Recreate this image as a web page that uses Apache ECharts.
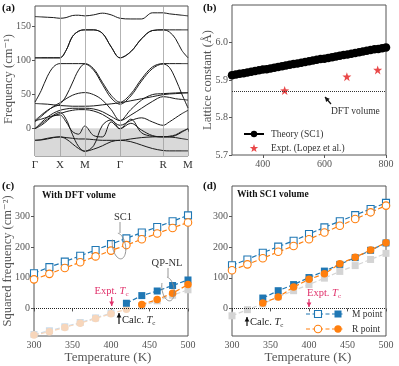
<!DOCTYPE html>
<html><head><meta charset="utf-8">
<script src="https://cdn.jsdelivr.net/npm/echarts@6/dist/echarts.min.js"></script>
<style>html,body{margin:0;padding:0;background:#fff}#c{width:399px;height:366px}</style>
</head><body><div id="c"></div>
<script>
// ---------- Panel (a): phonon dispersion ----------
const kPoints = [0,0.125,0.25,0.375,0.5,0.625,0.75,0.875,1.0,1.177,1.354,1.53,1.707,1.924,2.14,2.357,2.573,2.698,2.823,2.948,3.073];
const kNodes = [0,0.5,1.0,1.707,2.573,3.073];
const kLabels = ['Γ','X','M','Γ','R','M'];
const bandT = [164.5,164,163.5,163,162,163,166,166.5,165.5,167,169.5,167,162,161,161,170,170,168.5,167.5,166.5,165.5];
const bandA = [104,104,104,104,104,115,135,143,145,145,140,120,104,113,132,144,145,145,145,145,145];
const bandB = [104,104,104,104,104,115,135,143,145,145,140,120,104,113,132,144,145,142,132,115,104];
const bandC = [39,56,77,91,95.5,95.5,95.5,95.5,95.5,88,68,49,39,51,73,90.5,95.5,95.5,95.5,95.5,95.5];
const bandD = [12,20,27,32,36,48,67,86,95,86,65,45,36,48,70,88,95,90,73,51,30.5];
const bandE = [10,18,26,33,38,44,49,52,53,50,42,28,12,28,42,50,51.5,52,52.5,53,53];
const bandF = [37,36.5,36,35,34,33.5,33,33,33,33.5,35,36.5,38,41,44,47,50,51,51.5,52,52.5];
const bandG = [0,9,17,23,27,29,30,30,30,29,25,18,12,20,30,40,47,46,44,43,42];
const bandH = [0,7,14,19,22,25,27,28,28,26,21,13,5,12,16,10,5,10,16,22,27];
const bandI = [0,5,12,20,24,14,-8,-26,-33,-25,5,13,0,14,-6,-11,-12,-12,-10,-5,0];
const bandJ = [12,14,17,19,20,10,-4,-8,4,-10,-12,10,0,8,-2,-10,-12,-11,-9,-4,0];
const bandK = [-17,-16.5,-15,-13,-12,-15,-22,-29,-33,-30,-25,-19,-17,-19,-24,-29,-32,-32.5,-32.5,-32.5,-32.5];
const bandL = [-17,-16,-14,-12.5,-12,-13,-14,-15,-15,-16,-17,-17,-17,-15,-13,-12,-11.5,-12,-13,-14.5,-16];
const bands = [bandT,bandA,bandB,bandC,bandD,bandE,bandF,bandG,bandH,bandI,bandJ,bandK,bandL];
const aTicks = [0,50,100,150];

// ---------- Panel (b): lattice constant ----------
const bTemps = [300,312.5,325,337.5,350,362.5,375,387.5,400,412.5,425,437.5,450,462.5,475,487.5,500,512.5,525,537.5,550,562.5,575,587.5,600,612.5,625,637.5,650,662.5,675,687.5,700,712.5,725,737.5,750,762.5,775,787.5,800];
const bTheory = [5.913,5.915,5.917,5.918,5.920,5.922,5.924,5.926,5.928,5.929,5.931,5.933,5.935,5.937,5.939,5.941,5.943,5.944,5.946,5.948,5.950,5.952,5.954,5.956,5.957,5.959,5.961,5.963,5.965,5.967,5.968,5.970,5.972,5.974,5.976,5.978,5.980,5.982,5.983,5.985,5.987];
const bExptT = [471,673,773];
const bExpt = [5.872,5.909,5.927];
const bDFT = 5.866;
const bXTicks = [400,600,800];
const bYTicks = [5.7,5.8,5.9,6.0];

// ---------- Panel (c): DFT volume ----------
const temps = [300,320,340,360,380,400,420,440,460,480,500];
const cSC1M = [115,135,153,172,191,210,229,248,266,285,304];
const cSC1R = [95,113,132,151,170,189,207,226,245,263,281];
const cQPT_M = [420,440,460,480,500];
const cQPM = [17,42,57,75,93];
const cQPT_R = [440,460,480,500];
const cQPR = [13,29,50,78];
const cFadeT_M = [300,320,340,360,380,400];
const cFadeM = [-85,-73,-60,-46,-31,-15];
const cFadeT_R = [300,320,340,360,380,400,420];
const cFadeR = [-87,-76,-62,-48,-33,-17,-3];
const cFadeT_G = [440,460,480,500];
const cFadeG = [8,25,43,61];

// ---------- Panel (d): SC1 volume ----------
const dSC1M = [141,160,182,202,221,243,265,285,305,325,345];
const dSC1R = [125,144,164,185,204,226,248,270,292,314,336];
const dQPT = [340,360,380,400,420,440,460,480,500];
const dQPM = [34,58,78,101,122,144,166,190,214];
const dQPR = [18,37,70,95,113,146,167,191,215];
const dFadeG = [-24,-4,15,38,58,78,99,121,140,160,180];
const cdYTicks = [0,100,200,300];

// ---------- styling ----------
const FONT = '"Liberation Serif","DejaVu Serif",serif';
const BLUE = '#1f77b4', ORANGE = '#ff7f0e', PINK = '#e0306a';
const AX = '#555', TXT = '#555';
const STAR = 'path://M0,-10L2.35,-3.24L9.51,-3.09L3.8,1.24L5.88,8.09L0,4L-5.88,8.09L-3.8,1.24L-9.51,-3.09L-2.35,-3.24Z';

const grids = [
  {left:35, top:6, width:153, height:150},
  {left:232, top:5, width:154, height:150},
  {left:34, top:186, width:154, height:150},
  {left:232, top:186, width:154, height:150}
].map(g => Object.assign(g, {show:true, borderColor:AX, borderWidth:1, backgroundColor:'transparent'}));

function axisBase(extra){
  return Object.assign({
    type:'value',
    axisLine:{show:false},
    axisTick:{show:true, length:3, lineStyle:{color:AX}},
    axisLabel:{color:TXT, fontFamily:FONT, fontSize:10, margin:4},
    splitLine:{show:false}
  }, extra);
}

const xAxes = [
  axisBase({gridIndex:0, min:0, max:3.073,
    axisTick:{show:true, length:3, lineStyle:{color:AX}, customValues:kNodes},
    axisLabel:{color:'#333', fontFamily:FONT, fontSize:11, margin:4, customValues:kNodes,
      formatter:v=>{let bi=0,bd=1e9;kNodes.forEach((k,i)=>{if(Math.abs(k-v)<bd){bd=Math.abs(k-v);bi=i;}});return kLabels[bi];}}}),
  axisBase({gridIndex:1, min:300, max:800,
    axisTick:{show:true, length:3, lineStyle:{color:AX}, customValues:bXTicks},
    axisLabel:{color:TXT, fontFamily:FONT, fontSize:10, margin:4, customValues:bXTicks}}),
  axisBase({gridIndex:2, min:300, max:500, interval:50}),
  axisBase({gridIndex:3, min:300, max:500, interval:50})
];
const yAxes = [
  axisBase({gridIndex:0, min:-40, max:180,
    axisTick:{show:true, length:3, lineStyle:{color:AX}, customValues:aTicks},
    axisLabel:{color:TXT, fontFamily:FONT, fontSize:10, margin:4, customValues:aTicks}}),
  axisBase({gridIndex:1, min:5.7, max:6.1,
    axisTick:{show:true, length:3, lineStyle:{color:AX}, customValues:bYTicks},
    axisLabel:{color:TXT, fontFamily:FONT, fontSize:10, margin:4, customValues:bYTicks, formatter:v=>v.toFixed(1)}}),
  axisBase({gridIndex:2, min:-90, max:400,
    axisTick:{show:true, length:3, lineStyle:{color:AX}, customValues:cdYTicks},
    axisLabel:{color:TXT, fontFamily:FONT, fontSize:10, margin:4, customValues:cdYTicks}}),
  axisBase({gridIndex:3, min:-90, max:400,
    axisTick:{show:true, length:3, lineStyle:{color:AX}, customValues:cdYTicks},
    axisLabel:{color:TXT, fontFamily:FONT, fontSize:10, margin:4, customValues:cdYTicks}})
];

const series = [];
// (a) negative region shading + symmetry lines
series.push({type:'line', xAxisIndex:0, yAxisIndex:0, silent:true, z:1,
  data:[[kNodes[0],0],[kNodes[kNodes.length-1],0]], showSymbol:false,
  lineStyle:{width:0.6, color:'#cfcfcf'}, areaStyle:{color:'#d9d9d9', opacity:1, origin:'start'},
  markLine:{silent:true, symbol:'none', label:{show:false}, lineStyle:{color:'#a0a0a0', width:0.8, type:'solid'},
    data:kNodes.slice(1,-1).map(v=>({xAxis:v}))}
});
bands.forEach(b=>{
  series.push({type:'line', xAxisIndex:0, yAxisIndex:0, silent:true, z:3, smooth:0.35,
    showSymbol:false, data:kPoints.map((k,i)=>[k,b[i]]), lineStyle:{color:'#1a1a1a', width:1}});
});
// (b)
series.push({name:'Theory (SC1)', type:'line', xAxisIndex:1, yAxisIndex:1, z:3,
  data:bTemps.map((t,i)=>[t,bTheory[i]]), symbol:'circle', symbolSize:8.5, showAllSymbol:true,
  itemStyle:{color:'#000'}, lineStyle:{color:'#000', width:1, type:'dashed'},
  markLine:{silent:true, symbol:'none', label:{show:false}, lineStyle:{color:'#333', width:1, type:'dotted'}, data:[{yAxis:bDFT}]}
});
series.push({name:'Expt. (Lopez et al.)', type:'scatter', xAxisIndex:1, yAxisIndex:1, z:4,
  data:bExptT.map((t,i)=>[t,bExpt[i]]), symbol:STAR, symbolSize:9, itemStyle:{color:'#e41a1c'}});

function lineS(xi, ts, vs, color, symbol, filled, opts){
  return Object.assign({type:'line', xAxisIndex:xi, yAxisIndex:xi, silent:true,
    data:ts.map((t,i)=>[t,vs[i]]), symbol:symbol, symbolSize:symbol==='rect'?7:7.5, showAllSymbol:true,
    itemStyle:filled?{color:color}:{color:'#fff', borderColor:color, borderWidth:1.1},
    lineStyle:{color:color, width:1.2, type:'dashed'}, z:3}, opts||{});
}
const FB = '#c8dbeb', FO = '#f7d6bb', FG = '#d4d4d4';
// (c)
series.push(lineS(2, cFadeT_M, cFadeM, FB, 'rect', true, {z:2}));
series.push(lineS(2, cFadeT_R, cFadeR, FO, 'circle', true, {z:2}));
series.push(lineS(2, cFadeT_G, cFadeG, FG, 'rect', true, {z:2}));
series.push(lineS(2, temps, cSC1M, BLUE, 'rect', false));
series.push(lineS(2, temps, cSC1R, ORANGE, 'circle', false));
series.push(lineS(2, cQPT_M, cQPM, BLUE, 'rect', true, {z:4}));
series.push(lineS(2, cQPT_R, cQPR, ORANGE, 'circle', true, {z:4,
  markLine:{silent:true, symbol:'none', label:{show:false}, lineStyle:{color:'#222', width:1, type:'dotted'}, data:[{yAxis:0}]}}));
// (d)
series.push(lineS(3, temps, dFadeG, FG, 'rect', true, {z:2}));
series.push(lineS(3, temps, dSC1M, BLUE, 'rect', false));
series.push(lineS(3, temps, dSC1R, ORANGE, 'circle', false));
series.push(lineS(3, dQPT, dQPM, BLUE, 'rect', true, {z:4}));
series.push(lineS(3, dQPT, dQPR, ORANGE, 'circle', true, {z:4,
  markLine:{silent:true, symbol:'none', label:{show:false}, lineStyle:{color:'#222', width:1, type:'dotted'}, data:[{yAxis:0}]}}));

// ---------- annotations ----------
const G = [];
function txt(x,y,text,o){
  o=o||{};
  G.push({type:'text', x:x, y:y, rotation:o.rot||0, z:50, silent:true,
    style:Object.assign({text:text, fill:o.color||TXT, fontFamily:FONT, fontSize:o.size||10,
      fontWeight:o.bold?'bold':'normal', align:o.align||'left', verticalAlign:'middle'}, o.style||{})});
}
function arrow(x1,y1,x2,y2,color){
  G.push({type:'line', z:50, silent:true, shape:{x1:x1,y1:y1,x2:x2,y2:y2}, style:{stroke:color, lineWidth:1.2}});
  const a=Math.atan2(y2-y1,x2-x1), L=4.5, W=2.4;
  const bx=x2-L*Math.cos(a), by=y2-L*Math.sin(a);
  G.push({type:'polygon', z:51, silent:true, shape:{points:[[x2,y2],[bx+W*Math.sin(a),by-W*Math.cos(a)],[bx-W*Math.sin(a),by+W*Math.cos(a)]]}, style:{fill:color}});
}
function ell(cx,cy,rx,ry,rotDeg,a0,a1){
  const pts=[], r=rotDeg*Math.PI/180;
  for(let i=0;i<=40;i++){const t=(a0+(a1-a0)*i/40)*Math.PI/180;
    const ex=rx*Math.cos(t), ey=ry*Math.sin(t);
    pts.push([cx+ex*Math.cos(r)-ey*Math.sin(r), cy+ex*Math.sin(r)+ey*Math.cos(r)]);}
  G.push({type:'polyline', z:50, silent:true, shape:{points:pts}, style:{stroke:'#8a8a8a', lineWidth:0.9, fill:null}});
}
function tc(x,y,label,color,align){
  G.push({type:'text', x:x, y:y, z:50, silent:true, style:{
    text:'{n|'+label+'}{i|T}{s|c}', fill:color, align:align||'left', verticalAlign:'middle',
    rich:{n:{fontFamily:FONT,fontSize:10.5,fill:color,lineHeight:13,verticalAlign:'middle'},
          i:{fontFamily:FONT,fontSize:10.5,fontStyle:'italic',fill:color,lineHeight:13,verticalAlign:'middle'},
          s:{fontFamily:FONT,fontSize:7,fill:color,lineHeight:13,verticalAlign:'bottom',padding:[4,0,0,0]}}}});
}
// panel labels
txt(2,8,'(a)',{bold:true,size:11,color:'#111'});
txt(203,8,'(b)',{bold:true,size:11,color:'#111'});
txt(2,186,'(c)',{bold:true,size:11,color:'#111'});
txt(203,186,'(d)',{bold:true,size:11,color:'#111'});
// axis names
txt(9,79,'Frequency (cm⁻¹)',{rot:Math.PI/2,align:'center',size:12.5});
txt(208,80,'Lattice constant (Å)',{rot:Math.PI/2,align:'center',size:12.5});
txt(8,261,'Squared frequency (cm⁻²)',{rot:Math.PI/2,align:'center',size:12.5});
txt(108,358,'Temperature (K)',{align:'center',size:13});
txt(308,358,'Temperature (K)',{align:'center',size:13});
// (b) annotation
arrow(331,104,325,97,'#111');
txt(331,111,'DFT volume',{size:9.5,color:'#333'});
// (c)
txt(42,196,'With DFT volume',{bold:true,size:9.5,color:'#111'});
txt(123,217,'SC1',{align:'center',size:10.5,color:'#333'});
G.push({type:'line',z:50,silent:true,shape:{x1:120,y1:222,x2:120,y2:233},style:{stroke:'#8a8a8a',lineWidth:0.9}});
ell(119,246,6.5,13,-10,-80,215);
txt(167,263,'QP-NL',{align:'center',size:10.5,color:'#333'});
G.push({type:'line',z:50,silent:true,shape:{x1:168,y1:268,x2:168,y2:277},style:{stroke:'#8a8a8a',lineWidth:0.9}});
ell(168,289,6,12,-10,-80,215);
tc(111.5,291,'Expt. ',PINK,'center');
arrow(111.7,297,111.7,306,PINK);
arrow(119,324,119,313,'#111');
tc(122,320,'Calc. ','#222','left');
// (d)
txt(237,195,'With SC1 volume',{bold:true,size:9.5,color:'#111'});
tc(324,293,'Expt. ',PINK,'center');
arrow(309,299,309,307,PINK);
arrow(247,326,247,317,'#111');
tc(250,322,'Calc. ','#222','left');
// (d) legend
function legRow(y,color,sym,label){
  G.push({type:'line',z:50,silent:true,shape:{x1:306,y1:y,x2:345,y2:y},style:{stroke:color,lineWidth:1.2,lineDash:[4,2.5]}});
  if(sym==='rect'){
    G.push({type:'rect',z:51,silent:true,shape:{x:314.5,y:y-3.5,width:7,height:7},style:{fill:'#fff',stroke:color,lineWidth:1.1}});
    G.push({type:'rect',z:51,silent:true,shape:{x:334.5,y:y-3.5,width:7,height:7},style:{fill:color}});
  } else {
    G.push({type:'circle',z:51,silent:true,shape:{cx:318,cy:y,r:3.7},style:{fill:'#fff',stroke:color,lineWidth:1.1}});
    G.push({type:'circle',z:51,silent:true,shape:{cx:338,cy:y,r:3.7},style:{fill:color}});
  }
  txt(352,y,label,{size:9.5,color:'#333'});
}
legRow(314,BLUE,'rect','M point');
legRow(329,ORANGE,'circle','R point');

const chart = echarts.init(document.getElementById('c'), null, {renderer:'canvas'});
chart.setOption({
  animation:false,
  backgroundColor:'#fff',
  grid:grids, xAxis:xAxes, yAxis:yAxes, series:series,
  legend:{show:true, orient:'vertical', left:238, top:124, itemGap:4, itemWidth:20, itemHeight:8,
    data:['Theory (SC1)','Expt. (Lopez et al.)'], selectedMode:false,
    textStyle:{fontFamily:FONT, fontSize:9.5, color:'#333', padding:[0,0,0,2]}},
  graphic:G
});
</script></body></html>
